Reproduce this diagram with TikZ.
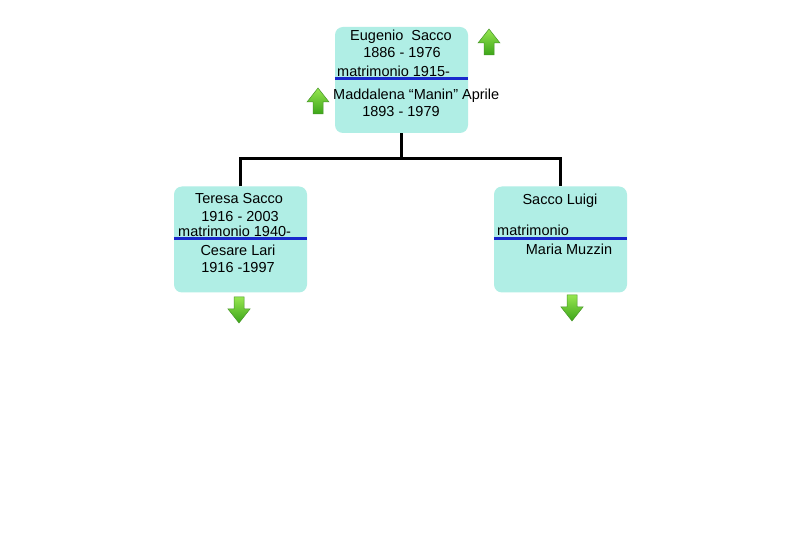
\documentclass[tikz,border=0pt]{standalone}
\usepackage{fontspec}
\setmainfont{Liberation Sans}
\definecolor{boxc}{RGB}{176,238,229}
\definecolor{bluel}{RGB}{25,40,205}
\definecolor{gtop}{RGB}{150,230,80}
\definecolor{gbot}{RGB}{60,165,25}
\definecolor{gdraw}{RGB}{70,150,40}
\begin{document}
\begin{tikzpicture}[x=1pt,y=-1pt,
  box/.style={draw=none, fill=boxc, rounded corners=8pt, minimum width=133pt, minimum height=106pt, inner sep=0pt},
  txt/.style={font=\fontsize{14.5}{16}\selectfont, inner sep=0pt, text=black, anchor=base},
  ltxt/.style={txt, anchor=base west},
  conn/.style={draw=black, line width=3pt},
  bline/.style={draw=bluel, line width=3pt},
  uparrowpic/.pic={\shade[top color=gtop, bottom color=gbot, draw=gdraw, line width=0.5pt]
     (0,-13) -- (11,1) -- (5,1) -- (5,13) -- (-5,13) -- (-5,1) -- (-11,1) -- cycle;},
  downarrowpic/.pic={\shade[top color=gtop, bottom color=gbot, draw=gdraw, line width=0.5pt]
     (0,13) -- (11,-1) -- (5,-1) -- (5,-13) -- (-5,-13) -- (-5,-1) -- (-11,-1) -- cycle;}
]
\useasboundingbox (0,0) rectangle (800,534);
\fill[white] (0,0) rectangle (800,534);

% boxes
\node[box] (top) at (401.5,80) {};
\node[box] (left) at (240.5,239.5) {};
\node[box] (right) at (560.5,239.5) {};

% connectors
\coordinate (j) at (top.south |- 0,159);
\draw[conn] (top.south) -- (j);
\draw[conn] (left.north) |- (j) -| (right.north);

% blue separators
\draw[bline] (top.west |- 0,79) -- (top.east |- 0,79);
\draw[bline] (left.west |- 0,239) -- (left.east |- 0,239);
\draw[bline] (right.west |- 0,239) -- (right.east |- 0,239);

% top box texts
\node[txt] (t1) at (401,41) {Eugenio~~Sacco};
\node[txt] (t2) at (402,58) {1886 - 1976};
\node[ltxt] (t3) at (337,77) {matrimonio 1915-};
\node[ltxt] (t4) at (333,100) {Maddalena “Manin” Aprile};
\node[txt] (t5) at (401,117) {1893 - 1979};

% left box texts
\node[txt] (l1) at (239,204) {Teresa Sacco};
\node[txt] (l2) at (240,222) {1916 - 2003};
\node[ltxt] (l3) at (178,237) {matrimonio 1940-};
\node[txt] (l4) at (238,256) {Cesare Lari};
\node[txt] (l5) at (238,273) {1916 -1997};

% right box texts
\node[txt] (r1) at (560,205) {Sacco Luigi};
\node[ltxt] (r2) at (497,236) {matrimonio};
\node[txt] (r3) at (569,255) {Maria Muzzin};

% green arrows
\pic at (489,42) {uparrowpic};
\pic at (318,101) {uparrowpic};
\pic at (239,310) {downarrowpic};
\pic at (572,308) {downarrowpic};
\end{tikzpicture}
\end{document}
